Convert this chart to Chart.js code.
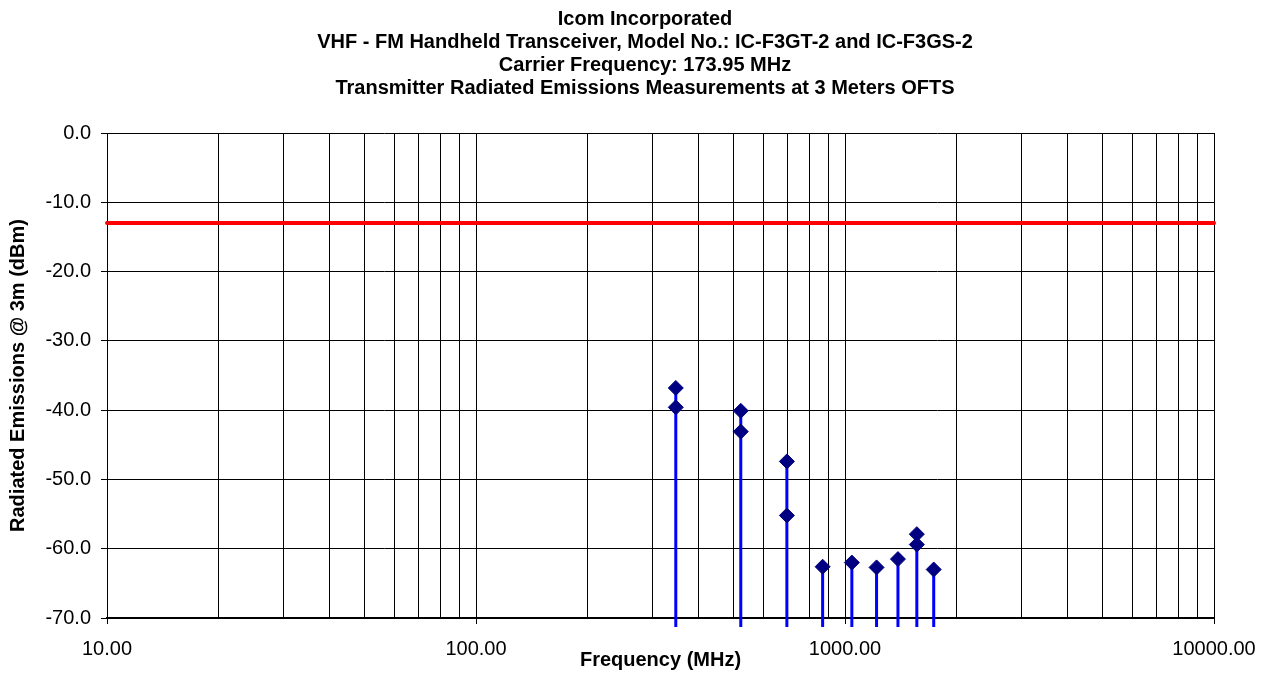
<!DOCTYPE html>
<html>
<head>
<meta charset="utf-8">
<title>Transmitter Radiated Emissions</title>
<script src="https://cdn.jsdelivr.net/npm/chart.js@4"></script>
<style>
  html, body { margin: 0; padding: 0; background: #fff; }
  #wrap { width: 1261px; height: 677px; position: relative; }
</style>
</head>
<body>
<div id="wrap"><canvas id="chart" width="1261" height="677"></canvas></div>
<script>
(function () {
  'use strict';

  var TITLE_LINES = [
    'Icom Incorporated',
    'VHF - FM Handheld Transceiver, Model No.: IC-F3GT-2 and IC-F3GS-2',
    'Carrier Frequency: 173.95 MHz',
    'Transmitter Radiated Emissions Measurements at 3 Meters OFTS'
  ];

  // harmonics of the 173.95 MHz carrier (MHz)
  var FREQS = [347.9, 521.85, 695.8, 869.75, 1043.7, 1217.65, 1391.6, 1565.55, 1739.5];
  // two readings per harmonic where two markers show, dBm
  var EMISSION_A = [-36.8, -40.1, -47.4, -62.6, -62.0, -62.7, -61.5, -57.9, -63.0];
  var EMISSION_B = [-39.6, -43.1, -55.2, null, null, null, null, -59.4, null];

  var LIMIT = -13;
  var STEM_BASE = -71.3;

  var X_GRID = [10, 20, 30, 40, 50, 60, 70, 80, 90,
                100, 200, 300, 400, 500, 600, 700, 800, 900,
                1000, 2000, 3000, 4000, 5000, 6000, 7000, 8000, 9000, 10000];
  var X_LABELED = [10, 100, 1000, 10000];

  var FONT = "'Liberation Sans', Arial, sans-serif";

  function points(values) {
    var out = [];
    FREQS.forEach(function (f, i) {
      if (values[i] !== null) out.push({ x: f, y: values[i] });
    });
    return out;
  }

  function stems() {
    var out = [];
    FREQS.forEach(function (f, i) {
      var top = EMISSION_A[i];
      if (EMISSION_B[i] !== null && EMISSION_B[i] > top) top = EMISSION_B[i];
      out.push({ x: f, y: STEM_BASE });
      out.push({ x: f, y: top });
      out.push({ x: f, y: null });
    });
    return out;
  }

  // title is drawn by hand so it can sit slightly right of centre like the original
  var titleBlock = {
    id: 'titleBlock',
    afterDraw: function (chart) {
      var ctx = chart.ctx;
      ctx.save();
      ctx.fillStyle = '#000';
      ctx.font = 'bold 20px ' + FONT;
      ctx.textAlign = 'center';
      ctx.textBaseline = 'middle';
      TITLE_LINES.forEach(function (line, i) {
        ctx.fillText(line, 645, 19 + i * 23);
      });
      ctx.restore();
    }
  };

  var markerStyle = {
    type: 'line',
    showLine: false,
    pointStyle: 'rectRot',
    pointRadius: 7.5,
    pointBackgroundColor: '#000080',
    pointBorderColor: '#000080',
    pointBorderWidth: 1,
    order: 0,
    clip: false
  };

  var datasets = [
    Object.assign({ label: 'Emission A', data: points(EMISSION_A) }, markerStyle),
    Object.assign({ label: 'Emission B', data: points(EMISSION_B) }, markerStyle),
    {
      type: 'line',
      label: 'Stems',
      data: stems(),
      borderColor: '#0000FF',
      borderWidth: 3,
      pointRadius: 0,
      spanGaps: false,
      order: 1,
      clip: false
    },
    {
      type: 'line',
      label: 'Limit',
      data: [{ x: X_GRID[0], y: LIMIT }, { x: X_GRID[X_GRID.length - 1], y: LIMIT }],
      borderColor: '#FF0000',
      borderWidth: 4,
      borderCapStyle: 'round',
      pointRadius: 0,
      order: 2,
      clip: false
    }
  ];

  new Chart(document.getElementById('chart'), {
    type: 'line',
    data: { datasets: datasets },
    plugins: [titleBlock],
    options: {
      responsive: false,
      animation: false,
      layout: { padding: { top: 133, right: 47, bottom: 0, left: 0 } },
      plugins: {
        legend: { display: false },
        tooltip: { enabled: false },
        title: { display: false }
      },
      scales: {
        x: {
          type: 'logarithmic',
          min: 10,
          max: 10000,
          afterBuildTicks: function (scale) {
            scale.ticks = X_GRID.map(function (v) { return { value: v }; });
          },
          afterFit: function (scale) {
            scale.height = 59;
            scale.paddingLeft = 0;
            scale.paddingRight = 0;
          },
          ticks: {
            autoSkip: false,
            maxRotation: 0,
            color: '#000',
            padding: 13,
            font: { family: FONT, size: 20 },
            callback: function (v) {
              return X_LABELED.indexOf(v) >= 0 ? v.toFixed(2) : '';
            }
          },
          grid: {
            color: '#000',
            lineWidth: 1,
            tickLength: 6,
            tickColor: function (ctx) {
              return ctx.tick && X_LABELED.indexOf(ctx.tick.value) >= 0 ? '#000' : 'rgba(0,0,0,0)';
            }
          },
          border: { color: '#000', width: 2 },
          title: {
            display: true,
            text: 'Frequency (MHz)',
            color: '#000',
            font: { family: FONT, size: 20, weight: 'bold' },
            padding: { top: 0, bottom: 5 }
          }
        },
        y: {
          min: -70,
          max: 0,
          afterFit: function (scale) {
            scale.width = 107;
            scale.paddingTop = 0;
            scale.paddingBottom = 0;
          },
          ticks: {
            stepSize: 10,
            color: '#000',
            padding: 10,
            font: { family: FONT, size: 20 },
            callback: function (v) { return v.toFixed(1); }
          },
          grid: { color: '#000', lineWidth: 1, tickLength: 6 },
          border: { color: '#000', width: 1 },
          title: {
            display: true,
            text: 'Radiated Emissions @ 3m (dBm)',
            color: '#000',
            font: { family: FONT, size: 20, weight: 'bold' },
            padding: { top: 6, bottom: 0 }
          }
        }
      }
    }
  });
})();
</script>
</body>
</html>
